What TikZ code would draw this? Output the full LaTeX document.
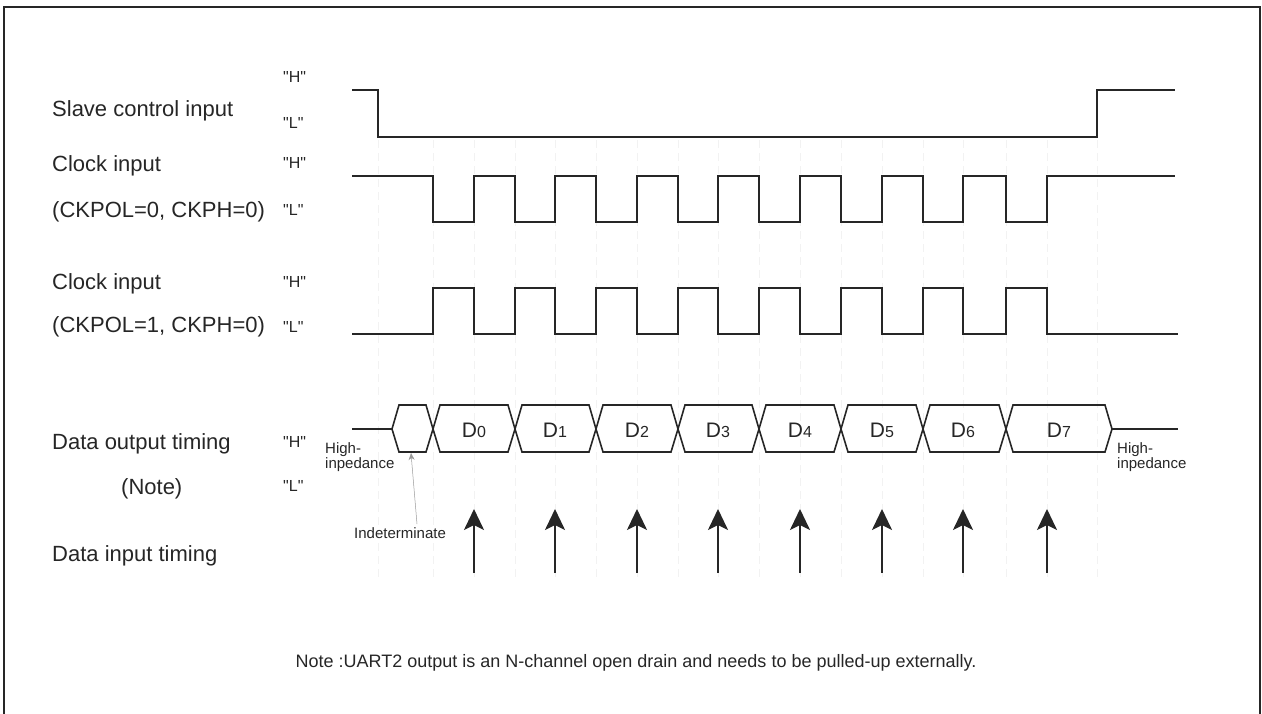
\documentclass[tikz,border=0pt]{standalone}
\usepackage{fontspec}
\setmainfont{Liberation Sans}[Ligatures=TeXOff]
\usetikzlibrary{arrows.meta}
\newcommand{\qt}[1]{"#1"}
\begin{document}
\begin{tikzpicture}[x=1pt,y=-1pt,
  wave/.style={line width=1.6pt, line join=miter, color=black!85},
  lbl/.style={anchor=base west, inner sep=0pt, font=\fontsize{22}{26}\selectfont, text=black!85},
  hl/.style={anchor=base west, inner sep=0pt, font=\fontsize{16}{18}\selectfont, text=black!85},
  small/.style={anchor=base west, inner sep=0pt, font=\fontsize{15}{15}\selectfont, text=black!85},
  dlbl/.style={anchor=base, inner sep=0pt, font=\fontsize{21}{24}\selectfont, text=black!85},
  guide/.style={black!5, line width=0.5pt, dash pattern=on 8pt off 5pt},
  samp/.style={line width=2.4pt, color=black!85, -{Stealth[length=21pt,width=20pt,inset=5pt]}},
]
\useasboundingbox (0,0) rectangle (1262,714);
\draw[line width=2pt, black!85] (4,714) -- (4,7) -- (1260,7) -- (1260,714);

% faint guide lines
\foreach \x in {378,433,474,515,555,596,637,678,718,759,800,841,882,923,963,1006,1047,1097}
  \draw[guide] (\x,140) -- (\x,580);

% labels
\node[lbl] (slave) at (52,117) {Slave control input};
\node[lbl] (ck1) at (52,172) {Clock input};
\node[lbl] (ck1p) at (52,218) {(CKPOL=0, CKPH=0)};
\node[lbl] (ck2) at (52,290) {Clock input};
\node[lbl] (ck2p) at (52,333) {(CKPOL=1, CKPH=0)};
\node[lbl] (dout) at (52,449) {Data output timing};
\node[lbl] (note) at (121,494) {(Note)};
\node[lbl] (din) at (52,561) {Data input timing};

\node[hl] (sH) at (283,83) {\qt{H}};
\node[hl] (sL) at (283,129) {\qt{L}};
\node[hl] (c1H) at (283,169) {\qt{H}};
\node[hl] (c1L) at (283,216) {\qt{L}};
\node[hl] (c2H) at (283,288) {\qt{H}};
\node[hl] (c2L) at (283,332) {\qt{L}};
\node[hl] (dH) at (283,447) {\qt{H}};
\node[hl] (dL) at (283,491) {\qt{L}};

% slave control
\draw[wave] (352,90) -- (378,90) -- (378,137) -- (1097,137) -- (1097,90) -- (1175,90);

% clock 1
\draw[wave] (352,176) -- (433,176) -- (433,222) -- (474,222) -- (474,176) -- (515,176) -- (515,222)
  -- (555,222) -- (555,176) -- (596,176) -- (596,222) -- (637,222) -- (637,176) -- (678,176)
  -- (678,222) -- (718,222) -- (718,176) -- (759,176) -- (759,222) -- (800,222) -- (800,176)
  -- (841,176) -- (841,222) -- (882,222) -- (882,176) -- (923,176) -- (923,222) -- (963,222)
  -- (963,176) -- (1006,176) -- (1006,222) -- (1047,222) -- (1047,176) -- (1175,176);

% clock 2
\draw[wave] (352,334) -- (433,334) -- (433,288) -- (474,288) -- (474,334) -- (515,334) -- (515,288)
  -- (555,288) -- (555,334) -- (596,334) -- (596,288) -- (637,288) -- (637,334) -- (678,334)
  -- (678,288) -- (718,288) -- (718,334) -- (759,334) -- (759,288) -- (800,288) -- (800,334)
  -- (841,334) -- (841,288) -- (882,288) -- (882,334) -- (923,334) -- (923,288) -- (963,288)
  -- (963,334) -- (1006,334) -- (1006,288) -- (1047,288) -- (1047,334) -- (1178,334);

% data output
\draw[wave] (352,429) -- (392,429);
\draw[wave] (1112,429) -- (1178,429);
\foreach \a/\b in {392/433,433/515,515/596,596/678,678/759,759/841,841/923,923/1006,1006/1112}
  \draw[wave] (\a,429) -- (\a+7,405) -- (\b-7,405) -- (\b,429) -- (\b-7,452) -- (\a+7,452) -- cycle;

\foreach \c/\n in {474/0,555/1,637/2,718/3,800/4,882/5,963/6,1059/7}
  \node[dlbl] (d\n) at (\c,437) {D{\fontsize{16}{16}\selectfont\n}};

\node[small] (hiL1) at (325,453) {High-};
\node[small] (hiL2) at (325,468) {inpedance};
\node[small] (hiR1) at (1117,453) {High-};
\node[small] (hiR2) at (1117,468) {inpedance};

% indeterminate pointer
\node[small] (ind) at (354,538) {Indeterminate};
\coordinate (indtip) at (411,453);
\coordinate (indfoot) at (417,524);
\draw[black!40, line width=0.5pt, -{Stealth[length=7pt,width=6pt]}] (indfoot) -- (indtip);

% sampling arrows
\foreach \x in {474,555,637,718,800,882,963,1047}
  \draw[samp] (\x,573) -- (\x,509);

\node[anchor=base, inner sep=0pt, font=\fontsize{18}{20}\selectfont, text=black!85] (notetxt) at (636,667)
  {Note :UART2 output is an N-channel open drain and needs to be pulled-up externally.};
\end{tikzpicture}
\end{document}
